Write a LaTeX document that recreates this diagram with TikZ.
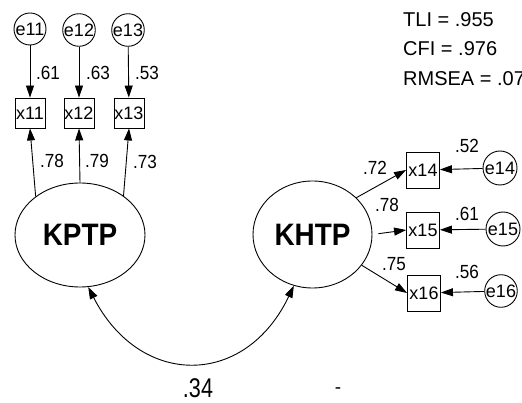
\documentclass[tikz,border=0pt]{standalone}
\usepackage{fontspec}
\setmainfont{Liberation Sans}
\usepackage{graphicx}
\usetikzlibrary{arrows.meta,shapes.geometric}
\begin{document}
\begin{tikzpicture}[x=1pt,y=-1pt,
  lab/.style={font=\fontsize{19}{19}\selectfont, inner sep=0pt},
  stat/.style={font=\fontsize{20}{20}\selectfont, inner sep=0pt, anchor=base west},
  errc/.style={draw, circle, line width=0.9pt, minimum size=32pt, inner sep=0pt, font=\fontsize{18}{18}\selectfont},
  obs/.style={draw, rectangle, line width=0.9pt, minimum width=30pt, minimum height=30pt, inner sep=0pt, font=\fontsize{18}{18}\selectfont},
  obsr/.style={obs, minimum width=33pt, minimum height=36pt},
  lat/.style={draw, ellipse, line width=0.9pt, inner sep=0pt, font=\fontsize{31}{31}\selectfont\bfseries},
  arr/.style={-{Triangle[length=12pt,width=8pt]}, line width=0.9pt},
  darr/.style={{Triangle[length=12pt,width=8pt]}-{Triangle[length=12pt,width=8pt]}, line width=0.9pt},
]
\useasboundingbox (0,0) rectangle (522,403);

% error terms left
\node[errc] (e11) at (30,29) {e11};
\node[errc] (e12) at (79,30) {e12};
\node[errc] (e13) at (128,30) {e13};

% observed left
\node[obs] (x11) at (30,113) {x11};
\node[obs] (x12) at (79,113) {x12};
\node[obs] (x13) at (129,113) {x13};

% latent
\node[lat, minimum width=130pt, minimum height=104pt] (KPTP) at (80,235) {\scalebox{0.9}[1]{KPTP}};
\node[lat, minimum width=119pt, minimum height=107pt] (KHTP) at (312.5,234.5) {\scalebox{0.9}[1]{KHTP}};

% observed right
\node[obsr] (x14) at (423,170) {x14};
\node[obsr] (x15) at (423,230) {x15};
\node[obsr] (x16) at (424,293) {x16};

% error terms right
\node[errc, minimum size=34pt] (e14) at (500,168) {e14};
\node[errc, minimum size=34pt] (e15) at (503,229) {e15};
\node[errc] (e16) at (501,291) {e16};

% arrows left
\draw[arr] (e11) -- (x11);
\draw[arr] (e12) -- (x12);
\draw[arr] (e13) -- (x13);
\draw[arr] (KPTP.139) -- (x11.south);
\draw[arr] (KPTP.north) -- (x12.south);
\draw[arr] (KPTP.42) -- (x13.south);

% arrows right
\draw[arr] (KHTP.40) -- (x14.west);
\draw[arr, shorten <=6pt] (KHTP.east) -- (x15.west);
\draw[arr] (KHTP.-32) -- (x16.west);
\draw[arr] (e14) -- (x14);
\draw[arr] (e15) -- (x15);
\draw[arr] (e16) -- (x16);

% covariance
\draw[darr] (KPTP.-81) .. controls (140,388) and (245,388) .. (KHTP.-110);

% loadings
\node[lab] (l61) at (48,73) {\scalebox{0.9}[1]{.61}};
\node[lab] (l63) at (98,73) {\scalebox{0.9}[1]{.63}};
\node[lab] (l53) at (147,73) {\scalebox{0.9}[1]{.53}};
\node[lab] (l78) at (52,161) {\scalebox{0.9}[1]{.78}};
\node[lab] (l79) at (97,161) {\scalebox{0.9}[1]{.79}};
\node[lab] (l73) at (145,162) {\scalebox{0.9}[1]{.73}};
\node[lab] (l72) at (375,168) {\scalebox{0.9}[1]{.72}};
\node[lab] (l78b) at (387,205) {\scalebox{0.9}[1]{.78}};
\node[lab] (l75) at (394,264) {\scalebox{0.9}[1]{.75}};
\node[lab] (l52) at (467,146) {\scalebox{0.9}[1]{.52}};
\node[lab] (l61b) at (467,214) {\scalebox{0.9}[1]{.61}};
\node[lab] (l56) at (467,272) {\scalebox{0.9}[1]{.56}};
\node[lab, font=\fontsize{27}{27}\selectfont] (l34) at (198,388) {\scalebox{0.8}[1]{.34}};
\node[lab] (dash) at (338,391) {-};

% fit indices
\node[stat] (tli) at (403,27) {TLI = .955};
\node[stat] (cfi) at (403,56) {CFI = .976};
\node[stat] (rmsea) at (403,86) {RMSEA = .07};
\end{tikzpicture}
\end{document}
